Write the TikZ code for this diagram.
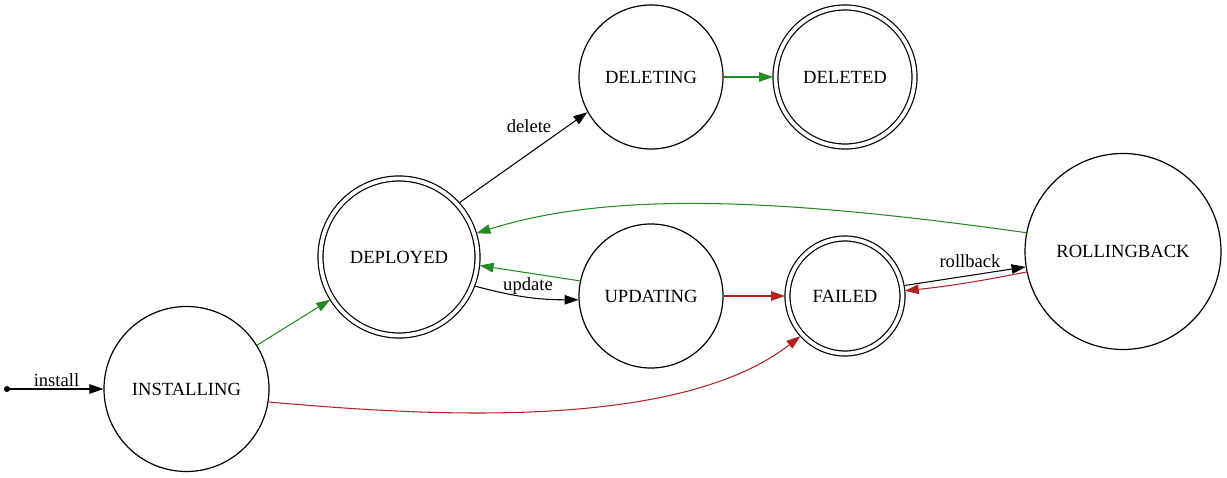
\documentclass[tikz,border=0pt]{standalone}
\usepackage{fontspec}
\setmainfont{Liberation Serif}
\usetikzlibrary{arrows.meta}
\definecolor{fgreen}{RGB}{34,139,34}
\definecolor{fred}{RGB}{178,34,34}
\begin{document}
\begin{tikzpicture}[x=1pt,y=1pt,
  every node/.style={font=\fontsize{18.6}{22}\selectfont},
  state/.style={circle, draw, line width=1.2pt, inner sep=0pt},
  accstate/.style={circle, draw, line width=1.2pt, double, double distance=3.8pt, inner sep=0pt, outer sep=2.5pt},
  lbl/.style={inner sep=0pt},
  edgeline/.style={line width=1.05pt, -{Triangle[length=14pt,width=9.5pt]}},
  grn/.style={edgeline, draw=fgreen},
  rd/.style={edgeline, draw=fred},
  blk/.style={edgeline, draw=black}]
\useasboundingbox (0,0) rectangle (1227,477);
\node[circle, fill, inner sep=0pt, minimum size=6pt] (s) at (7,88) {};
\node[state, minimum size=165pt] (inst) at (186.5,88) {INSTALLING};
\node[accstate, minimum size=157pt] (dep) at (399,220) {DEPLOYED};
\node[state, minimum size=144pt] (del) at (651,400) {DELETING};
\node[accstate, minimum size=139pt] (deld) at (845,400) {DELETED};
\node[state, minimum size=144pt] (upd) at (651,181) {UPDATING};
\node[accstate, minimum size=115pt] (fail) at (845,181) {FAILED};
\node[state, minimum size=196pt] (rb) at (1123,225.5) {ROLLINGBACK};
\node[lbl] (linstall) at (56.5,97) {install};
\node[lbl] (ldelete) at (529,351) {delete};
\node[lbl] (lupdate) at (528,191) {update};
\node[lbl] (lrollback) at (970,216) {rollback};
\draw[blk] (s) -- (inst);
\draw[grn] (inst) -- (dep);
\draw[blk] (dep.42) -- (del.209);
\draw[grn] (del) -- (deld);
\draw[blk] (dep.-21.5) to[out=-15,in=180] (upd.183);
\draw[grn] (upd.168) -- (dep.-6);
\draw[rd] (upd) -- (fail);
\draw[rd] (inst.-9.7) .. controls +(-5:140) and +(218:160) .. (fail.222);
\draw[grn] (rb.169) .. controls +(172:250) and +(17.6:140) .. (dep.17.8);
\draw[blk] (fail.10.7) -- (rb.189.5);
\draw[rd] (rb.192.3) to[out=191,in=6] (fail.5.9);
\end{tikzpicture}
\end{document}
